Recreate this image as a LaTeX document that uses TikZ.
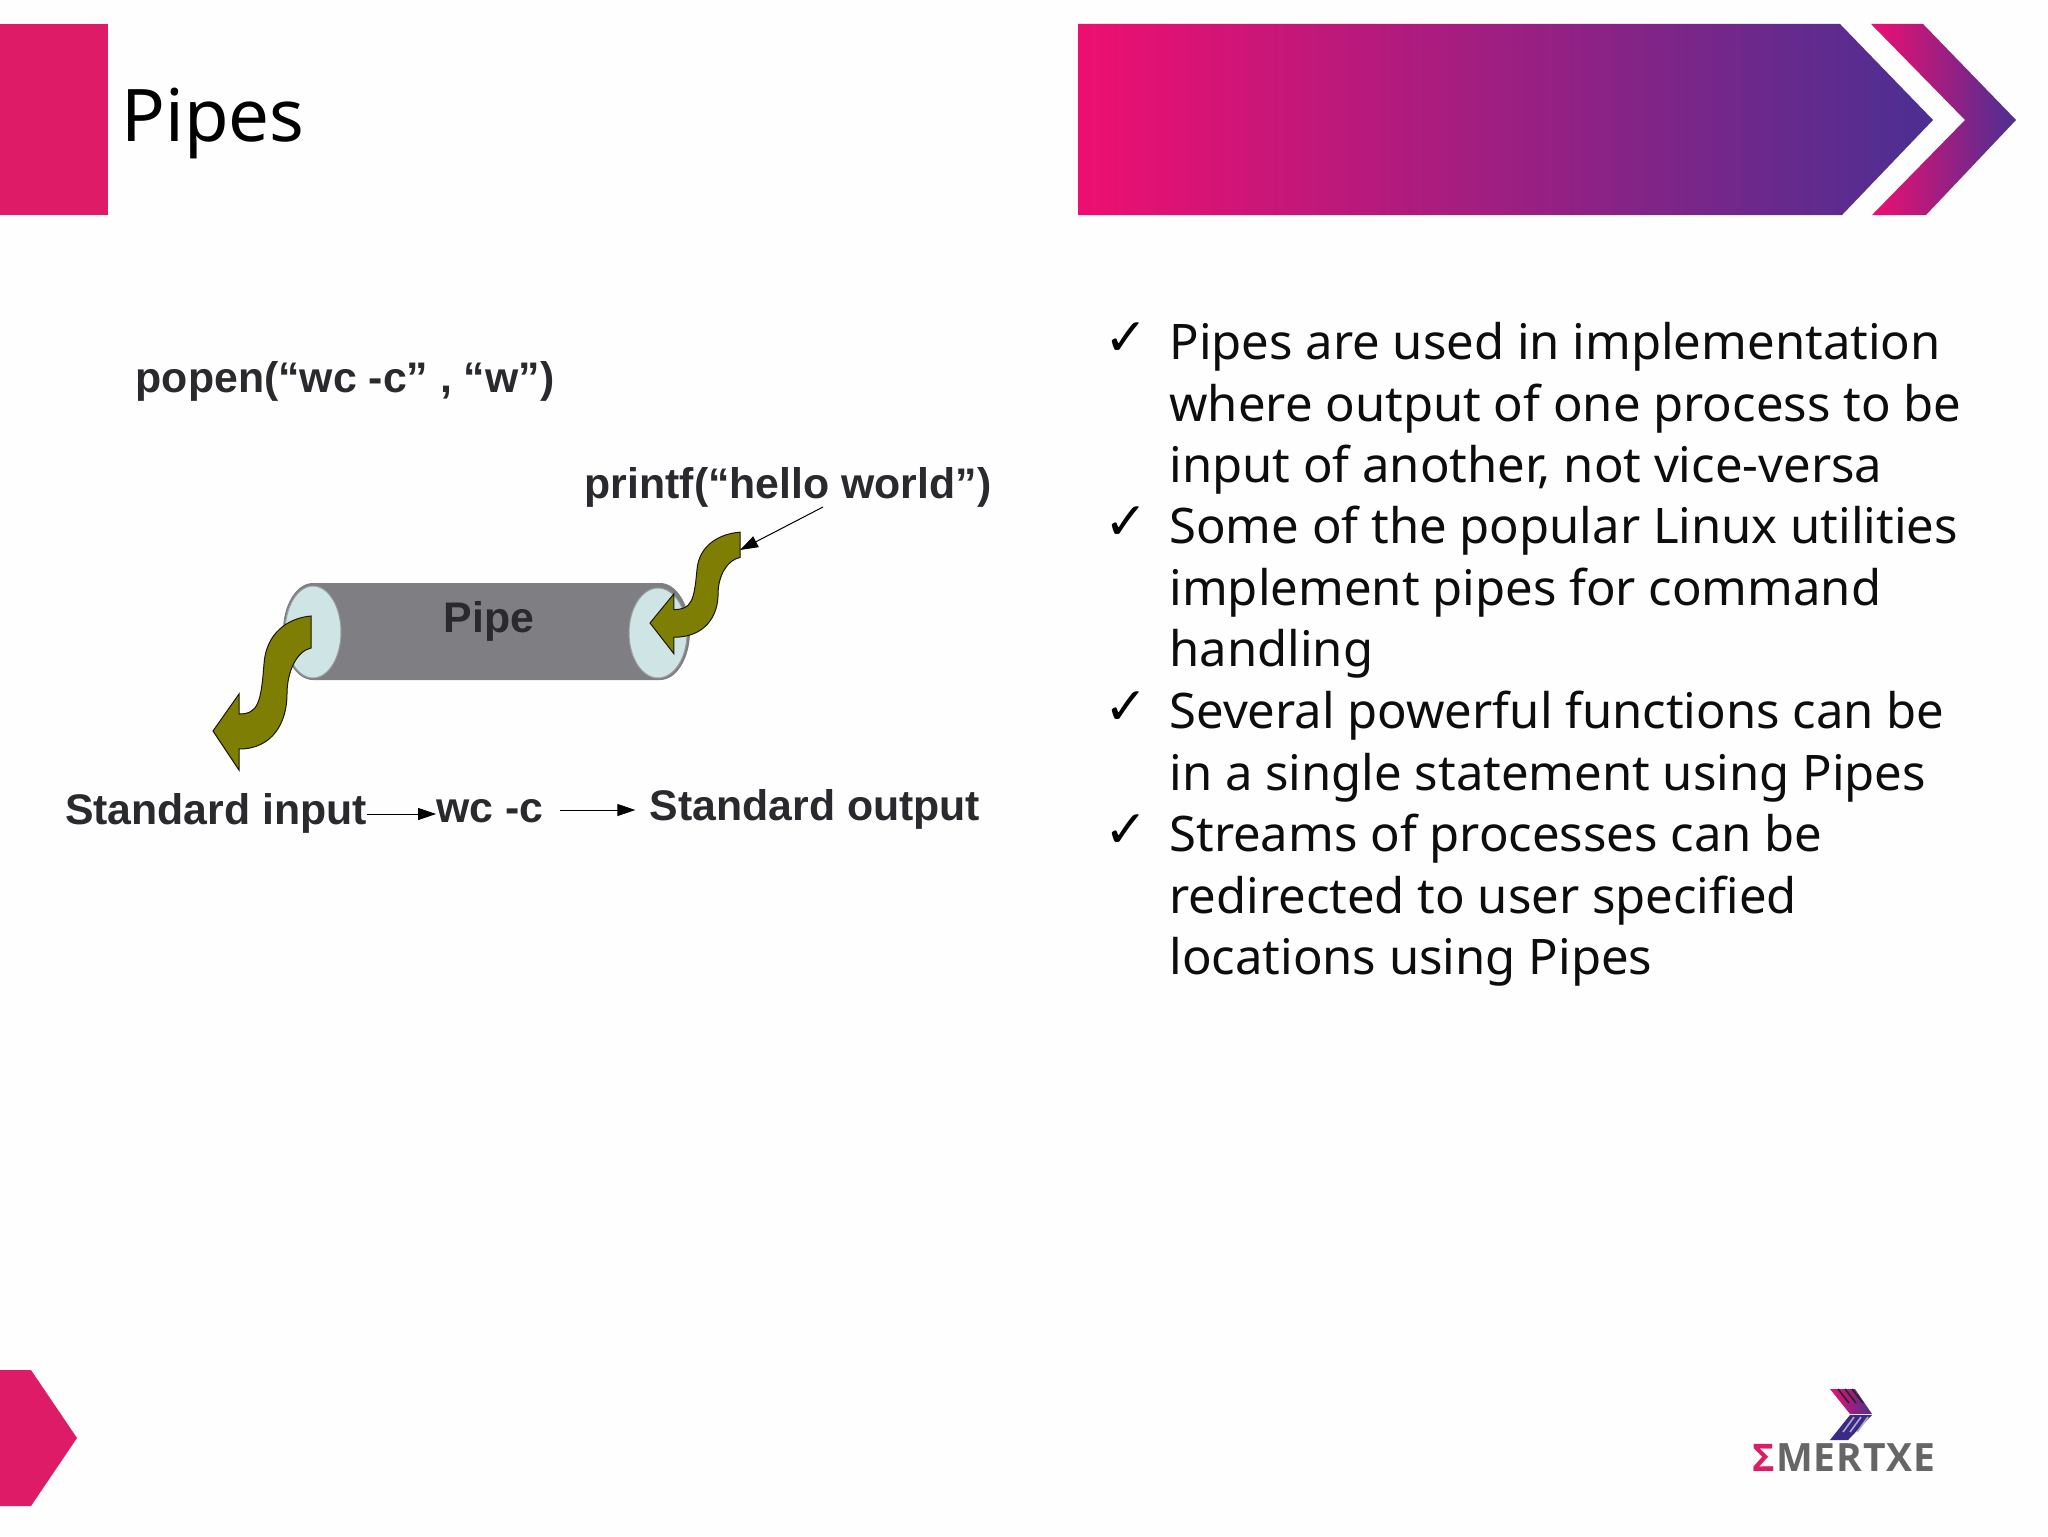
\documentclass[tikz,border=0pt]{standalone}
\usepackage{fontspec}
\setmainfont{Noto Sans}
\newfontfamily\figfont{Liberation Sans}
\newfontfamily\checkfont{DejaVu Sans}
\newfontfamily\logofont[LetterSpace=2]{Open Sans}
\usetikzlibrary{arrows.meta}
\definecolor{pagebg}{HTML}{FEFEFE}
\definecolor{emred}{HTML}{DE1B66}
\definecolor{empink}{HTML}{EE0F70}
\definecolor{empurple}{HTML}{4B2F92}
\definecolor{emnavy}{HTML}{3A2A85}
\definecolor{pipegrey}{HTML}{7F7F83}
\definecolor{pipeend}{HTML}{CFE5E5}
\definecolor{waveolive}{HTML}{7E7E05}
\definecolor{figtext}{HTML}{2A2A2E}
\tikzset{
  figlabel/.style={inner sep=0pt,text=figtext,text height=16pt,text depth=4pt,font=\figfont\bfseries\fontsize{21.4}{24}\selectfont},
  figarrow/.style={-{Stealth[length=9pt,width=6pt,inset=0pt]},line width=0.5pt,black},
  point/.style={anchor=north west,inner sep=0pt,align=left,text=black!95,font=\fontsize{24.5}{30.75}\selectfont},
  tick/.style={inner sep=0pt,font=\checkfont\fontsize{26}{28}\selectfont},
  wavearrow/.pic={
    \draw[fill=waveolive,draw=black!80!waveolive,line width=0.5pt] (0,0) -- (26,-37) -- (26,-17)
      .. controls (45,-17) and (48,-28) .. (51,-67) .. controls (53,-98) and (75,-113) .. (98,-115)
      -- (98,-83) .. controls (84,-80) and (74,-60) .. (74,-37) .. controls (74,-9) and (60,18) .. (26,18)
      -- (26,39) -- cycle;
  }
}
\begin{document}
\begin{tikzpicture}[x=0.5pt,y=-0.5pt]
\useasboundingbox[fill=pagebg] (0,0) rectangle (2048,1536);
\fill[emred] (0,24) rectangle (108,215);
\fill[emred] (0,1370) -- (31,1370) -- (77,1438) -- (31,1506) -- (0,1506) -- cycle;
\shade[left color=empink,right color=empurple] (1078,24) -- (1840,24) -- (1933,120) -- (1842,215) -- (1078,215) -- cycle;
\shade[left color=empink,right color=empurple] (1871,24) -- (1923,24) -- (2016,120) -- (1926,215) -- (1872,215) -- (1965,120) -- cycle;
\node[anchor=west,inner sep=0pt,font=\fontsize{36.3}{40}\selectfont] (title) at (121,123) {Pipes};

\node[figlabel] (popen) at (345,380) {popen(“wc -c” , “w”)};
\node[figlabel] (printf) at (788,486) {printf(“hello world”)};
\fill[pipegrey] (313,583) -- (660,583) arc[start angle=-90,end angle=90,x radius=30,y radius=48.5] -- (313,680) arc[start angle=90,end angle=270,x radius=30,y radius=48.5];
\draw[fill=pipeend,draw=pipegrey!70!pipeend,line width=0.5pt] (313,632) ellipse[x radius=28,y radius=46];
\draw[fill=pipeend,draw=pipegrey!70!pipeend,line width=0.5pt] (658,633) ellipse[x radius=29,y radius=45];
\node[figlabel] (pipe) at (489,620) {Pipe};
\pic at (213,731) {wavearrow};
\pic[xscale=0.92,yscale=0.79] at (650,623) {wavearrow};
\coordinate (tailend) at (740,550);
\coordinate (printfend) at (823,507);
\draw[figarrow] (printfend) -- (tailend);
\node[figlabel] (stdin) at (216,812) {Standard input};
\node[figlabel] (wc) at (490,810) {wc -c};
\node[figlabel] (stdout) at (815,808) {Standard output};
\draw[figarrow] (stdin.east) ++(0,2) -- (wc.west |- 0,814);
\draw[figarrow,shorten <=8pt,shorten >=7pt] (wc.east) -- (stdout.west |- wc.east);

\foreach \i/\y in {1/339,2/523,3/708,4/831}
  \node[tick] (tick\i) at (1126,\y) {✓};
\node[point] (pointa) at (1169,322) {Pipes are used in implementation\\where output of one process to be\\input of another, not vice-versa};
\node[point] (pointb) at (1169,506) {Some of the popular Linux utilities\\implement pipes for command\\handling};
\node[point] (pointc) at (1169,691) {Several powerful functions can be\\in a single statement using Pipes};
\node[point] (pointd) at (1169,814) {Streams of processes can be\\redirected to user specified\\locations using Pipes};

\shade[left color=empink,right color=empurple] (1830,1389) -- (1855,1389) -- (1872,1414) -- (1850,1414) -- cycle;
\fill[emnavy] (1850,1415) -- (1872,1415) -- (1848,1440) -- (1830,1440) -- cycle;
\foreach \dx in {0,7,14}{
  \draw[black!85,line width=0.8pt] (1838+\dx,1389) -- (1849+\dx,1403);
  \draw[white!60!emnavy,line width=0.8pt] (1861+\dx-7,1417) -- (1850+\dx-7,1432);
}
\node[anchor=west,inner sep=0pt,text=emred,font=\logofont\bfseries\fontsize{19}{22}\selectfont] (sigma) at (1752,1458) {Σ};
\node[anchor=west,inner sep=0pt,text=black!60,font=\logofont\bfseries\fontsize{19.5}{24}\selectfont] (logotext) at (1776,1458) {MERTXE};
\end{tikzpicture}
\end{document}
